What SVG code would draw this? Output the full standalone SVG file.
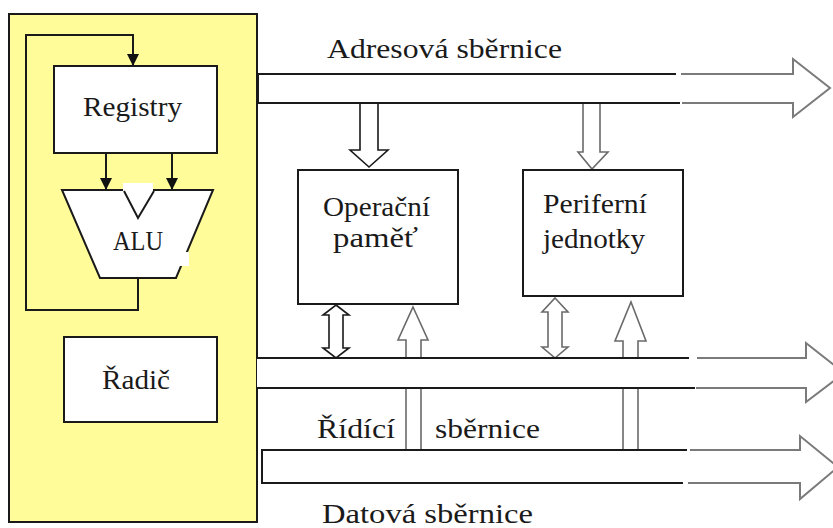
<svg xmlns="http://www.w3.org/2000/svg" width="833" height="528" viewBox="0 0 833 528">
<style>
text{font-family:'Liberation Serif','DejaVu Serif',serif;font-size:27px;fill:#1a1a1a}
.box{fill:#fff;stroke:#1a1a1a;stroke-width:2}
.ln{fill:none;stroke:#1a1a1a;stroke-width:2}
.gr{fill:none;stroke:#7a7a7a;stroke-width:2}
.ha{fill:#fff;stroke:#1a1a1a;stroke-width:1.6}
.hg{fill:#fff;stroke:#6a6a6a;stroke-width:1.6}
</style>
<defs>
<marker id="ah" viewBox="0 0 12 12" refX="12" refY="6" markerWidth="12" markerHeight="12" markerUnits="userSpaceOnUse" orient="auto">
<path d="M0,0 L12,6 L0,12 Z" fill="#111"/>
</marker>
</defs>
<rect width="833" height="528" fill="#fff"/>

<g id="cpu">
<rect x="9" y="14" width="248" height="508" fill="#fffc99" stroke="#1a1a1a" stroke-width="2"/>
</g>

<g id="connectors">
<path class="ln" d="M138,278 V310 H26 V35 H133 V66" marker-end="url(#ah)"/>
<path class="ln" d="M106,153 V190" marker-end="url(#ah)"/>
<path class="ln" d="M172,153 V190" marker-end="url(#ah)"/>

<polygon class="ha" points="360,103 378,103 378,150 388,150 369,167 350,150 360,150"/>
<polygon class="hg" points="583,103 600,103 600,152 608,152 592,169 578,152 583,152"/>

<polygon class="ha" points="336,305 349,315 343,315 343,348 349,348 336,358 323,348 329,348 329,315 323,315"/>
<polygon class="hg" points="555,298 568,312 562,312 562,347 568,347 555,358 542,347 548,347 548,312 542,312"/>

<polygon class="hg" points="413,307 428,340 421,340 421,450 406,450 406,340 398,340"/>
<polygon class="hg" points="631,302 646,341 638,341 638,450 623,450 623,341 615,341"/>
</g>

<g id="address-bus">
<polygon points="257,74 793,74 793,59 830,88 793,117 793,103 257,103" fill="#fff"/>
<path class="ln" d="M257,74 H676 M257,103 H680"/>
<path class="ln" d="M258,74 V103" stroke-width="3"/>
<path class="gr" d="M681,74 H793 V59 L830,88 L793,117 V103 H682"/>
</g>

<g id="control-bus">
<polygon points="257,358 806,358 806,343 844,373 806,402 806,388 257,388" fill="#fff"/>
<path class="ln" d="M257,358 H689 M257,388 H695"/>
<path class="gr" d="M697,358 H806 V343 L844,373 L806,402 V388 H696"/>
</g>

<g id="data-bus">
<polygon points="262,450 800,450 800,436 838,467 800,499 800,483 262,483" fill="#fff"/>
<path class="ln" d="M687,450 H262 V483 H683"/>
<path class="gr" d="M690,450 H800 V436 L838,467 L800,499 V483 H688"/>
</g>

<g id="registry">
<rect class="box" x="54" y="66" width="163" height="87"/>
<text x="83" y="116" textLength="99" lengthAdjust="spacingAndGlyphs">Registry</text>
</g>

<g id="alu">
<polygon class="box" points="62,190 213,190 176,278 100,278"/>
<rect x="123" y="183" width="30" height="8" fill="#fff"/>
<path class="ln" d="M124,191 L138,218 L154,191" stroke-width="1.6"/>
<rect x="179" y="252" width="10" height="14" fill="#fff"/>
<text x="113" y="250" textLength="50" lengthAdjust="spacingAndGlyphs">ALU</text>
</g>

<g id="radic">
<rect class="box" x="64" y="337" width="153" height="85"/>
<text x="102" y="389" textLength="68" lengthAdjust="spacingAndGlyphs">Řadič</text>
</g>

<g id="operacni-pamet">
<rect class="box" x="298" y="170" width="160" height="134"/>
<text x="323" y="216" textLength="107" lengthAdjust="spacingAndGlyphs">Operační</text>
<text x="333" y="247" textLength="85" lengthAdjust="spacingAndGlyphs">paměť</text>
</g>

<g id="periferni-jednotky">
<rect class="box" x="523" y="170" width="160" height="126"/>
<text x="543" y="213" textLength="104" lengthAdjust="spacingAndGlyphs">Periferní</text>
<text x="543" y="248" textLength="102" lengthAdjust="spacingAndGlyphs">jednotky</text>
</g>

<g id="labels">
<text x="327" y="58" textLength="235" lengthAdjust="spacingAndGlyphs">Adresová sběrnice</text>
<text x="317" y="438" textLength="78" lengthAdjust="spacingAndGlyphs">Řídící</text>
<text x="435" y="438" textLength="105" lengthAdjust="spacingAndGlyphs">sběrnice</text>
<text x="322" y="523" textLength="211" lengthAdjust="spacingAndGlyphs">Datová sběrnice</text>
</g>
</svg>
